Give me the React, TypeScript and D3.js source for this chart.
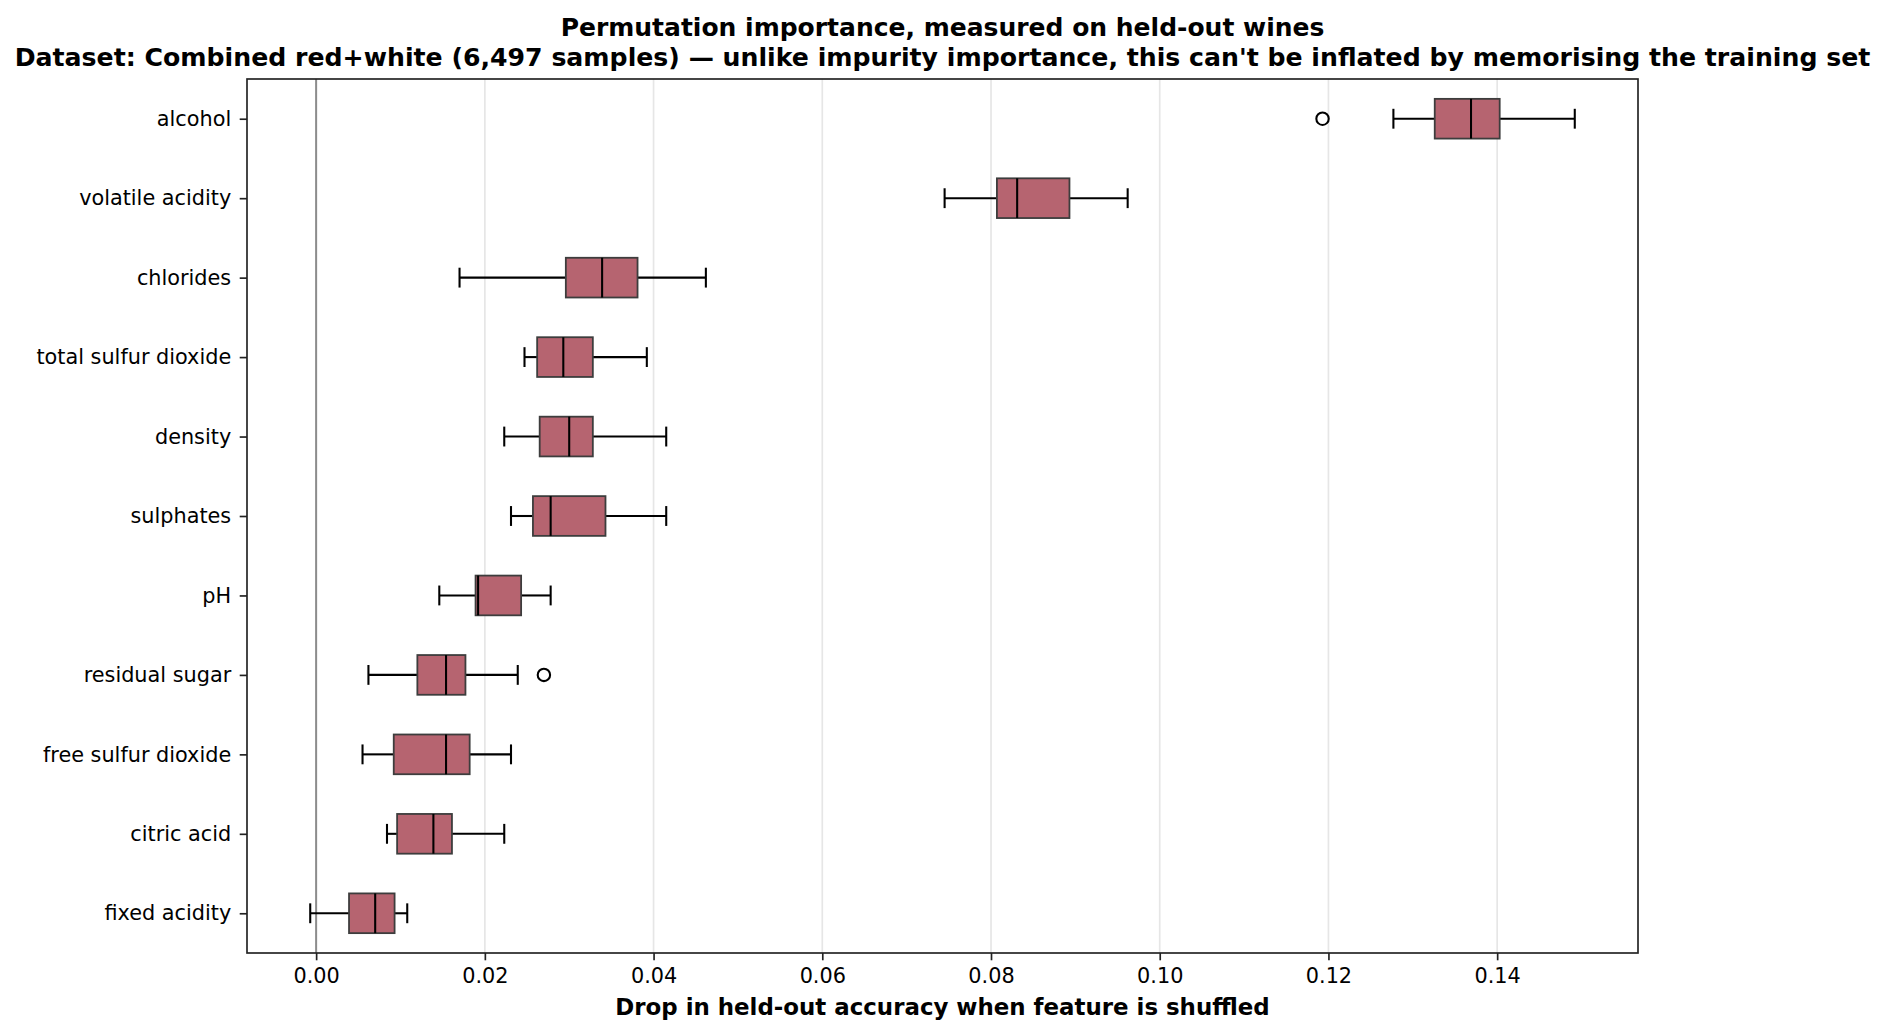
import React, { useRef, useEffect } from "react";
import * as d3 from "d3";

// features listed top to bottom, as drawn
const features = [
  "alcohol",
  "volatile acidity",
  "chlorides",
  "total sulfur dioxide",
  "density",
  "sulphates",
  "pH",
  "residual sugar",
  "free sulfur dioxide",
  "citric acid",
  "fixed acidity",
];

const whiskerLow = [0.1277, 0.0745, 0.0170, 0.0247, 0.0223, 0.0231, 0.0146, 0.0062, 0.0055, 0.0084, -0.0007];
const q1 = [0.1326, 0.0807, 0.0296, 0.0262, 0.0265, 0.0257, 0.0189, 0.0120, 0.0092, 0.0096, 0.0039];
const median = [0.1369, 0.0831, 0.0339, 0.0293, 0.0300, 0.0278, 0.0192, 0.0154, 0.0154, 0.0139, 0.0070];
const q3 = [0.1403, 0.0893, 0.0381, 0.0328, 0.0328, 0.0343, 0.0243, 0.0177, 0.0182, 0.0161, 0.0093];
const whiskerHigh = [0.1492, 0.0962, 0.0462, 0.0392, 0.0415, 0.0415, 0.0278, 0.0239, 0.0231, 0.0223, 0.0108];
const outliers: [string, number][] = [
  ["alcohol", 0.1193],
  ["residual sugar", 0.0270],
];

const xTicks = [0, 0.02, 0.04, 0.06, 0.08, 0.1, 0.12, 0.14];

const W = 1886;
const H = 1034;
const FONT = "'DejaVu Sans', sans-serif";

const App: React.FC = () => {
  const ref = useRef<SVGSVGElement | null>(null);

  useEffect(() => {
    document.body.style.margin = "0";
    document.body.style.overflow = "hidden";
    if (!ref.current) return;

    const svg = d3.select(ref.current);
    svg.selectAll("*").remove();

    const margin = { top: 79, right: 248, bottom: 81, left: 247 };

    // matplotlib style 5% padding around the data
    const lo = Math.min(d3.min(whiskerLow)!, d3.min(outliers, d => d[1])!);
    const hi = Math.max(d3.max(whiskerHigh)!, d3.max(outliers, d => d[1])!);
    const pad = (hi - lo) * 0.05;

    const x = d3
      .scaleLinear()
      .domain([lo - pad, hi + pad])
      .range([margin.left, W - margin.right]);

    const y = d3
      .scalePoint<string>()
      .domain(features)
      .range([margin.top, H - margin.bottom])
      .padding(0.5);

    const step = y.step();
    const boxH = step * 0.5;
    const capH = step * 0.25;
    const lw = 2.08;

    svg.append("rect").attr("width", W).attr("height", H).attr("fill", "#fff");

    // vertical grid
    svg
      .append("g")
      .selectAll("line")
      .data(xTicks)
      .enter()
      .append("line")
      .attr("x1", d => x(d))
      .attr("x2", d => x(d))
      .attr("y1", margin.top)
      .attr("y2", H - margin.bottom)
      .attr("stroke", "#e6e6e6")
      .attr("stroke-width", 1.7);

    // zero line
    svg
      .append("line")
      .attr("x1", x(0))
      .attr("x2", x(0))
      .attr("y1", margin.top)
      .attr("y2", H - margin.bottom)
      .attr("stroke", "#8c8c8c")
      .attr("stroke-width", 2);

    const boxes = svg
      .append("g")
      .selectAll("g")
      .data(features)
      .enter()
      .append("g");

    // whiskers
    boxes
      .append("line")
      .attr("x1", (_, i) => x(whiskerLow[i]))
      .attr("x2", (_, i) => x(q1[i]))
      .attr("y1", d => y(d)!)
      .attr("y2", d => y(d)!)
      .attr("stroke", "#000")
      .attr("stroke-width", lw);
    boxes
      .append("line")
      .attr("x1", (_, i) => x(q3[i]))
      .attr("x2", (_, i) => x(whiskerHigh[i]))
      .attr("y1", d => y(d)!)
      .attr("y2", d => y(d)!)
      .attr("stroke", "#000")
      .attr("stroke-width", lw);

    // caps
    [whiskerLow, whiskerHigh].forEach(arr => {
      boxes
        .append("line")
        .attr("x1", (_, i) => x(arr[i]))
        .attr("x2", (_, i) => x(arr[i]))
        .attr("y1", d => y(d)! - capH / 2)
        .attr("y2", d => y(d)! + capH / 2)
        .attr("stroke", "#000")
        .attr("stroke-width", lw);
    });

    // box
    boxes
      .append("rect")
      .attr("x", (_, i) => x(q1[i]))
      .attr("width", (_, i) => x(q3[i]) - x(q1[i]))
      .attr("y", d => y(d)! - boxH / 2)
      .attr("height", boxH)
      .attr("fill", "#b66470")
      .attr("stroke", "#3d3d3d")
      .attr("stroke-width", 1.8);

    // median
    boxes
      .append("line")
      .attr("x1", (_, i) => x(median[i]))
      .attr("x2", (_, i) => x(median[i]))
      .attr("y1", d => y(d)! - boxH / 2)
      .attr("y2", d => y(d)! + boxH / 2)
      .attr("stroke", "#000")
      .attr("stroke-width", lw);

    // fliers
    svg
      .append("g")
      .selectAll("circle")
      .data(outliers)
      .enter()
      .append("circle")
      .attr("cx", d => x(d[1]))
      .attr("cy", d => y(d[0])!)
      .attr("r", 6.2)
      .attr("fill", "none")
      .attr("stroke", "#000")
      .attr("stroke-width", lw);

    // axes
    const xAxis = svg
      .append("g")
      .attr("transform", `translate(0,${H - margin.bottom})`)
      .call(
        d3
          .axisBottom(x)
          .tickValues(xTicks)
          .tickFormat(d3.format(".2f"))
          .tickSize(7.3)
          .tickPadding(8)
          .tickSizeOuter(0)
      );
    const yAxis = svg
      .append("g")
      .attr("transform", `translate(${margin.left},0)`)
      .call(d3.axisLeft(y).tickSize(7.3).tickPadding(8.5).tickSizeOuter(0));

    [xAxis, yAxis].forEach(a => {
      a.select(".domain").remove();
      a.selectAll("line").attr("stroke", "#222").attr("stroke-width", 1.67);
      a.selectAll("text")
        .attr("font-family", FONT)
        .attr("font-size", 20.8)
        .attr("fill", "#000");
    });

    // frame
    svg
      .append("rect")
      .attr("x", margin.left)
      .attr("y", margin.top)
      .attr("width", W - margin.left - margin.right)
      .attr("height", H - margin.top - margin.bottom)
      .attr("fill", "none")
      .attr("stroke", "#222")
      .attr("stroke-width", 1.67);

    const cx = (margin.left + W - margin.right) / 2;

    svg
      .append("text")
      .attr("x", cx)
      .attr("y", 36)
      .attr("text-anchor", "middle")
      .attr("font-family", FONT)
      .attr("font-weight", "bold")
      .attr("font-size", 25)
      .text("Permutation importance, measured on held-out wines");
    svg
      .append("text")
      .attr("x", cx)
      .attr("y", 66)
      .attr("text-anchor", "middle")
      .attr("font-family", FONT)
      .attr("font-weight", "bold")
      .attr("font-size", 25.2)
      .text(
        "Dataset: Combined red+white (6,497 samples) \u2014 unlike impurity importance, this can't be inflated by memorising the training set"
      );

    svg
      .append("text")
      .attr("x", cx)
      .attr("y", 1015)
      .attr("text-anchor", "middle")
      .attr("font-family", FONT)
      .attr("font-weight", "bold")
      .attr("font-size", 22.9)
      .text("Drop in held-out accuracy when feature is shuffled");
  }, []);

  return (
    <svg
      ref={ref}
      width={W}
      height={H}
      style={{ position: "absolute", left: 0, top: 0, display: "block" }}
    />
  );
};

export default App;
